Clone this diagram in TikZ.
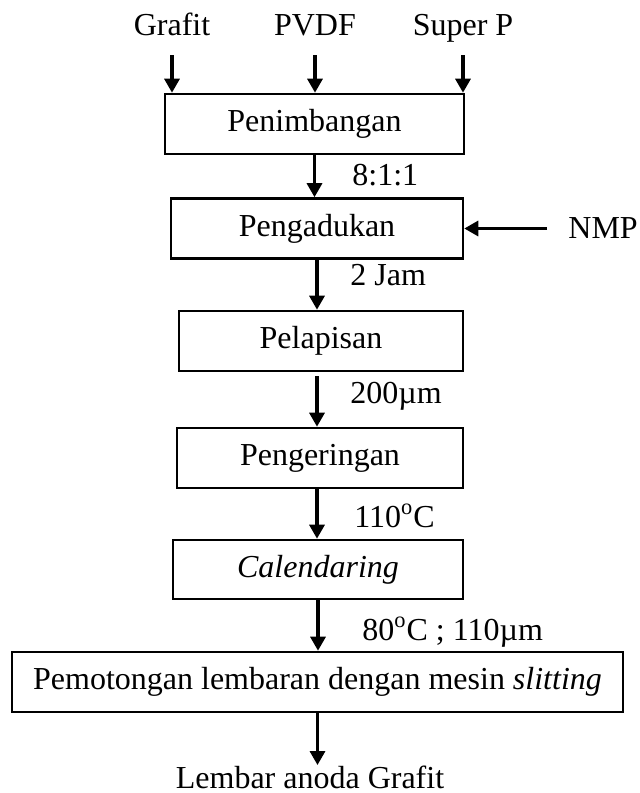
\documentclass[tikz,border=0pt]{standalone}
\usepackage{fontspec}
\setmainfont{Liberation Serif}
\usetikzlibrary{arrows.meta,calc}

\begin{document}
\begin{tikzpicture}[x=0.5pt,y=-0.5pt,
  font=\fontsize{16}{19}\selectfont,
  box/.style={draw,line width=1.3pt,minimum height=30pt,inner sep=0pt},
  arr/.style={-{Triangle[length=7pt,width=7.5pt]},line width=1.6pt},
  lbl/.style={anchor=base west,inner sep=0pt}]
  \useasboundingbox (0,0) rectangle (639,793);
  % bahan awal
  \foreach \nm/\txt/\x in {grafit/Grafit/172,pvdf/PVDF/315,superp/Super P/463}{
    \node[anchor=base,inner sep=0pt] (\nm) at (\x,35) {\txt};
  }
  % tahapan proses
  \node[box,minimum width=149.5pt] (b1) at (314.5,124) {Penimbangan};
  \node[box,minimum width=146pt] (b2) at (317,228.5) {Pengadukan};
  \node[box,minimum width=142pt] (b3) at (321,341) {Pelapisan};
  \node[box,minimum width=143pt] (b4) at (320,458) {Pengeringan};
  \node[box,minimum width=145pt,minimum height=29.5pt] (b5) at (318,569.5) {\textit{Calendaring}};
  \node[box,minimum width=305.5pt] (b6) at (317.5,682) {Pemotongan lembaran dengan mesin \textit{slitting}};
  \node[anchor=west,inner sep=0pt] (nmp) at (568,228.5) {NMP};
  \node[anchor=base,inner sep=0pt] (anoda) at (310,788) {Lembar anoda Grafit};
  % panah
  \foreach \nm in {grafit,pvdf,superp}{
    \draw[arr] ($(\nm.base)+(0,20)$) -- (\nm.base |- b1.north);
  }
  \draw[arr] (b1.south) -- (b1.south |- b2.north);
  \draw[arr] (nmp.west) ++(-21,0) -- (nmp.west -| b2.east);
  \draw[arr] (b2.south) -- (b2.south |- b3.north);
  \draw[arr,shorten <=2pt] (b3.south -| b2.south) -- (b2.south |- b4.north);
  \draw[arr] (b4.south -| b2.south) -- (b2.south |- b5.north);
  \draw[arr] (b5.south) -- (b5.south |- b6.north);
  \draw[arr] (b6.south) -- (b6.south |- anoda.north);
  % keterangan
  \node[lbl] at (352,185) {8:1:1};
  \node[lbl] at (350,285) {2 Jam};
  \node[lbl] at (350,403) {200µm};
  \node[lbl] at (354,527) {110\textsuperscript{o}C};
  \node[lbl] at (362,640) {80\textsuperscript{o}C ; 110µm};
\end{tikzpicture}
\end{document}
